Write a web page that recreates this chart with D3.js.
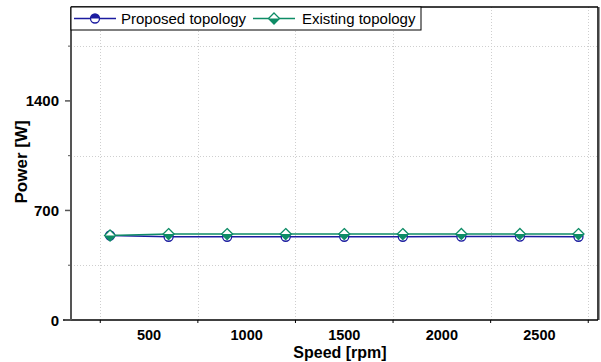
<!DOCTYPE html>
<html>
<head>
<meta charset="utf-8">
<script src="https://cdn.jsdelivr.net/npm/d3@7"></script>
<style>
  body { margin: 0; background: #fff; }
  svg { display: block; font-family: "Liberation Sans", Arial, sans-serif; }
</style>
</head>
<body>
<div id="chart"></div>
<script>
// --- Data ---
const speeds = [300, 600, 900, 1200, 1500, 1800, 2100, 2400, 2700];
const proposed = [540, 532, 532, 532, 532, 532, 533, 533, 532];
const existing = [540, 549, 549, 549, 549, 549, 550, 550, 549];
const xMajorTicks = [500, 1000, 1500, 2000, 2500];
const xMinorTicks = [250, 750, 1250, 1750, 2250, 2750];
const yMajorTicks = [0, 700, 1400];
const yMinorTicks = [350, 1050, 1750];

const W = 601, H = 362;
const m = { left: 71, right: 3, top: 7, bottom: 42 };

const blue = "#1c1ca0";
const green = "#0e8c66";

const svg = d3.select("#chart").append("svg").attr("width", W).attr("height", H);

const x = d3.scaleLinear().domain([100, 2800]).range([m.left, W - m.right]);
const y = d3.scaleLinear().domain([0, 2000]).range([H - m.bottom, m.top]);

// --- Grid (minor positions only) ---
const grid = svg.append("g").attr("stroke", "#cfcfcf").attr("stroke-dasharray", "1,2").attr("stroke-width", 1);
grid.selectAll(".gx").data(xMinorTicks).join("line")
  .attr("x1", (d) => Math.round(x(d)) + 0.5).attr("x2", (d) => Math.round(x(d)) + 0.5)
  .attr("y1", y(2000)).attr("y2", y(0));
grid.selectAll(".gy").data(yMinorTicks).join("line")
  .attr("y1", (d) => Math.round(y(d)) + 0.5).attr("y2", (d) => Math.round(y(d)) + 0.5)
  .attr("x1", x(100)).attr("x2", x(2800));

// --- Frame ---
svg.append("line").attr("x1", x(2800)).attr("x2", x(2800)).attr("y1", y(2000)).attr("y2", y(0))
  .attr("stroke", "#000").attr("stroke-width", 1.5);
svg.append("line").attr("x1", x(2800) + 1.5).attr("x2", x(2800) + 1.5).attr("y1", y(2000)).attr("y2", y(0))
  .attr("stroke", "#999").attr("stroke-width", 1);
svg.append("line").attr("x1", x(100)).attr("x2", x(2800)).attr("y1", y(2000)).attr("y2", y(2000))
  .attr("stroke", "#000").attr("stroke-width", 1.5);

// --- X axis ---
const xAxisG = svg.append("g").attr("transform", `translate(0,${y(0)})`);
xAxisG.append("line").attr("x1", m.left - 8).attr("x2", x(2800)).attr("stroke", "#000").attr("stroke-width", 1.5);
xAxisG.selectAll(".xm").data(xMinorTicks).join("line")
  .attr("x1", (d) => x(d)).attr("x2", (d) => x(d)).attr("y1", 0).attr("y2", 3)
  .attr("stroke", "#000").attr("stroke-width", 1);
xAxisG.selectAll(".xl").data(xMajorTicks).join("text")
  .attr("x", (d) => x(d)).attr("y", 19.5)
  .attr("text-anchor", "middle").attr("font-size", 14.5).attr("font-weight", "bold")
  .text((d) => d);

// --- Y axis ---
const yAxisG = svg.append("g").attr("transform", `translate(${x(100)},0)`);
yAxisG.append("line").attr("y1", y(2000)).attr("y2", y(0)).attr("stroke", "#555").attr("stroke-width", 2);
yAxisG.selectAll(".ym").data(yMajorTicks).join("line")
  .attr("x1", -6).attr("x2", 0).attr("y1", (d) => y(d)).attr("y2", (d) => y(d))
  .attr("stroke", "#555").attr("stroke-width", 1.5);
yAxisG.selectAll(".yn").data(yMinorTicks).join("line")
  .attr("x1", -3).attr("x2", 0).attr("y1", (d) => y(d)).attr("y2", (d) => y(d))
  .attr("stroke", "#555").attr("stroke-width", 1);
yAxisG.selectAll(".yl").data(yMajorTicks).join("text")
  .attr("x", -12).attr("y", (d) => y(d) + 5.5)
  .attr("text-anchor", "end").attr("font-size", 15).attr("font-weight", "bold")
  .text((d) => d);

// --- Axis titles ---
svg.append("text").attr("x", 340).attr("y", 358)
  .attr("text-anchor", "middle").attr("font-size", 16).attr("font-weight", "bold")
  .text("Speed [rpm]");
svg.append("text").attr("transform", `translate(27,${y(1010)}) rotate(-90)`)
  .attr("text-anchor", "middle").attr("font-size", 17).attr("font-weight", "bold")
  .text("Power [W]");

// --- Markers ---
function halfCircle(g, r, color) {
  g.append("circle").attr("r", r).attr("fill", "#fff").attr("stroke", color).attr("stroke-width", 1.3);
  g.append("path").attr("d", `M${-r},0 A${r},${r} 0 0 1 ${r},0 Z`).attr("fill", color);
}
function halfDiamond(g, r, color) {
  g.append("path").attr("d", `M0,${-r} L${r},0 L0,${r} L${-r},0 Z`)
    .attr("fill", "#fff").attr("stroke", color).attr("stroke-width", 1.3);
  g.append("path").attr("d", `M${-r},0 L${r},0 L0,${r} Z`).attr("fill", color);
}

const series = [
  { name: "Proposed topology", values: proposed, color: blue, marker: halfCircle, r: 4.5 },
  { name: "Existing topology", values: existing, color: green, marker: halfDiamond, r: 5.5 },
];

const line = d3.line().x((d) => x(d[0])).y((d) => y(d[1]));
for (const s of series) {
  const pts = speeds.map((sp, i) => [sp, s.values[i]]);
  svg.append("path").datum(pts).attr("d", line)
    .attr("fill", "none").attr("stroke", s.color).attr("stroke-width", 1.5);
}
for (const s of series) {
  speeds.forEach((sp, i) => {
    const g = svg.append("g").attr("transform", `translate(${x(sp)},${y(s.values[i])})`);
    s.marker(g, s.r, s.color);
  });
}

// --- Legend ---
const leg = svg.append("g");
leg.append("rect").attr("x", x(100)).attr("y", y(2000)).attr("width", 350).attr("height", 23)
  .attr("fill", "#fff").attr("stroke", "#000").attr("stroke-width", 1);
const legItems = [
  { s: series[0], x0: 74, tx: 121 },
  { s: series[1], x0: 253, tx: 302 },
];
for (const it of legItems) {
  const cy = 18.5;
  leg.append("line").attr("x1", it.x0).attr("x2", it.x0 + 42).attr("y1", cy).attr("y2", cy)
    .attr("stroke", it.s.color).attr("stroke-width", 1.5);
  const g = leg.append("g").attr("transform", `translate(${it.x0 + 21},${cy})`);
  it.s.marker(g, it.s.r, it.s.color);
  leg.append("text").attr("x", it.tx).attr("y", cy + 5.5).attr("font-size", 15).text(it.s.name);
}
</script>
</body>
</html>
